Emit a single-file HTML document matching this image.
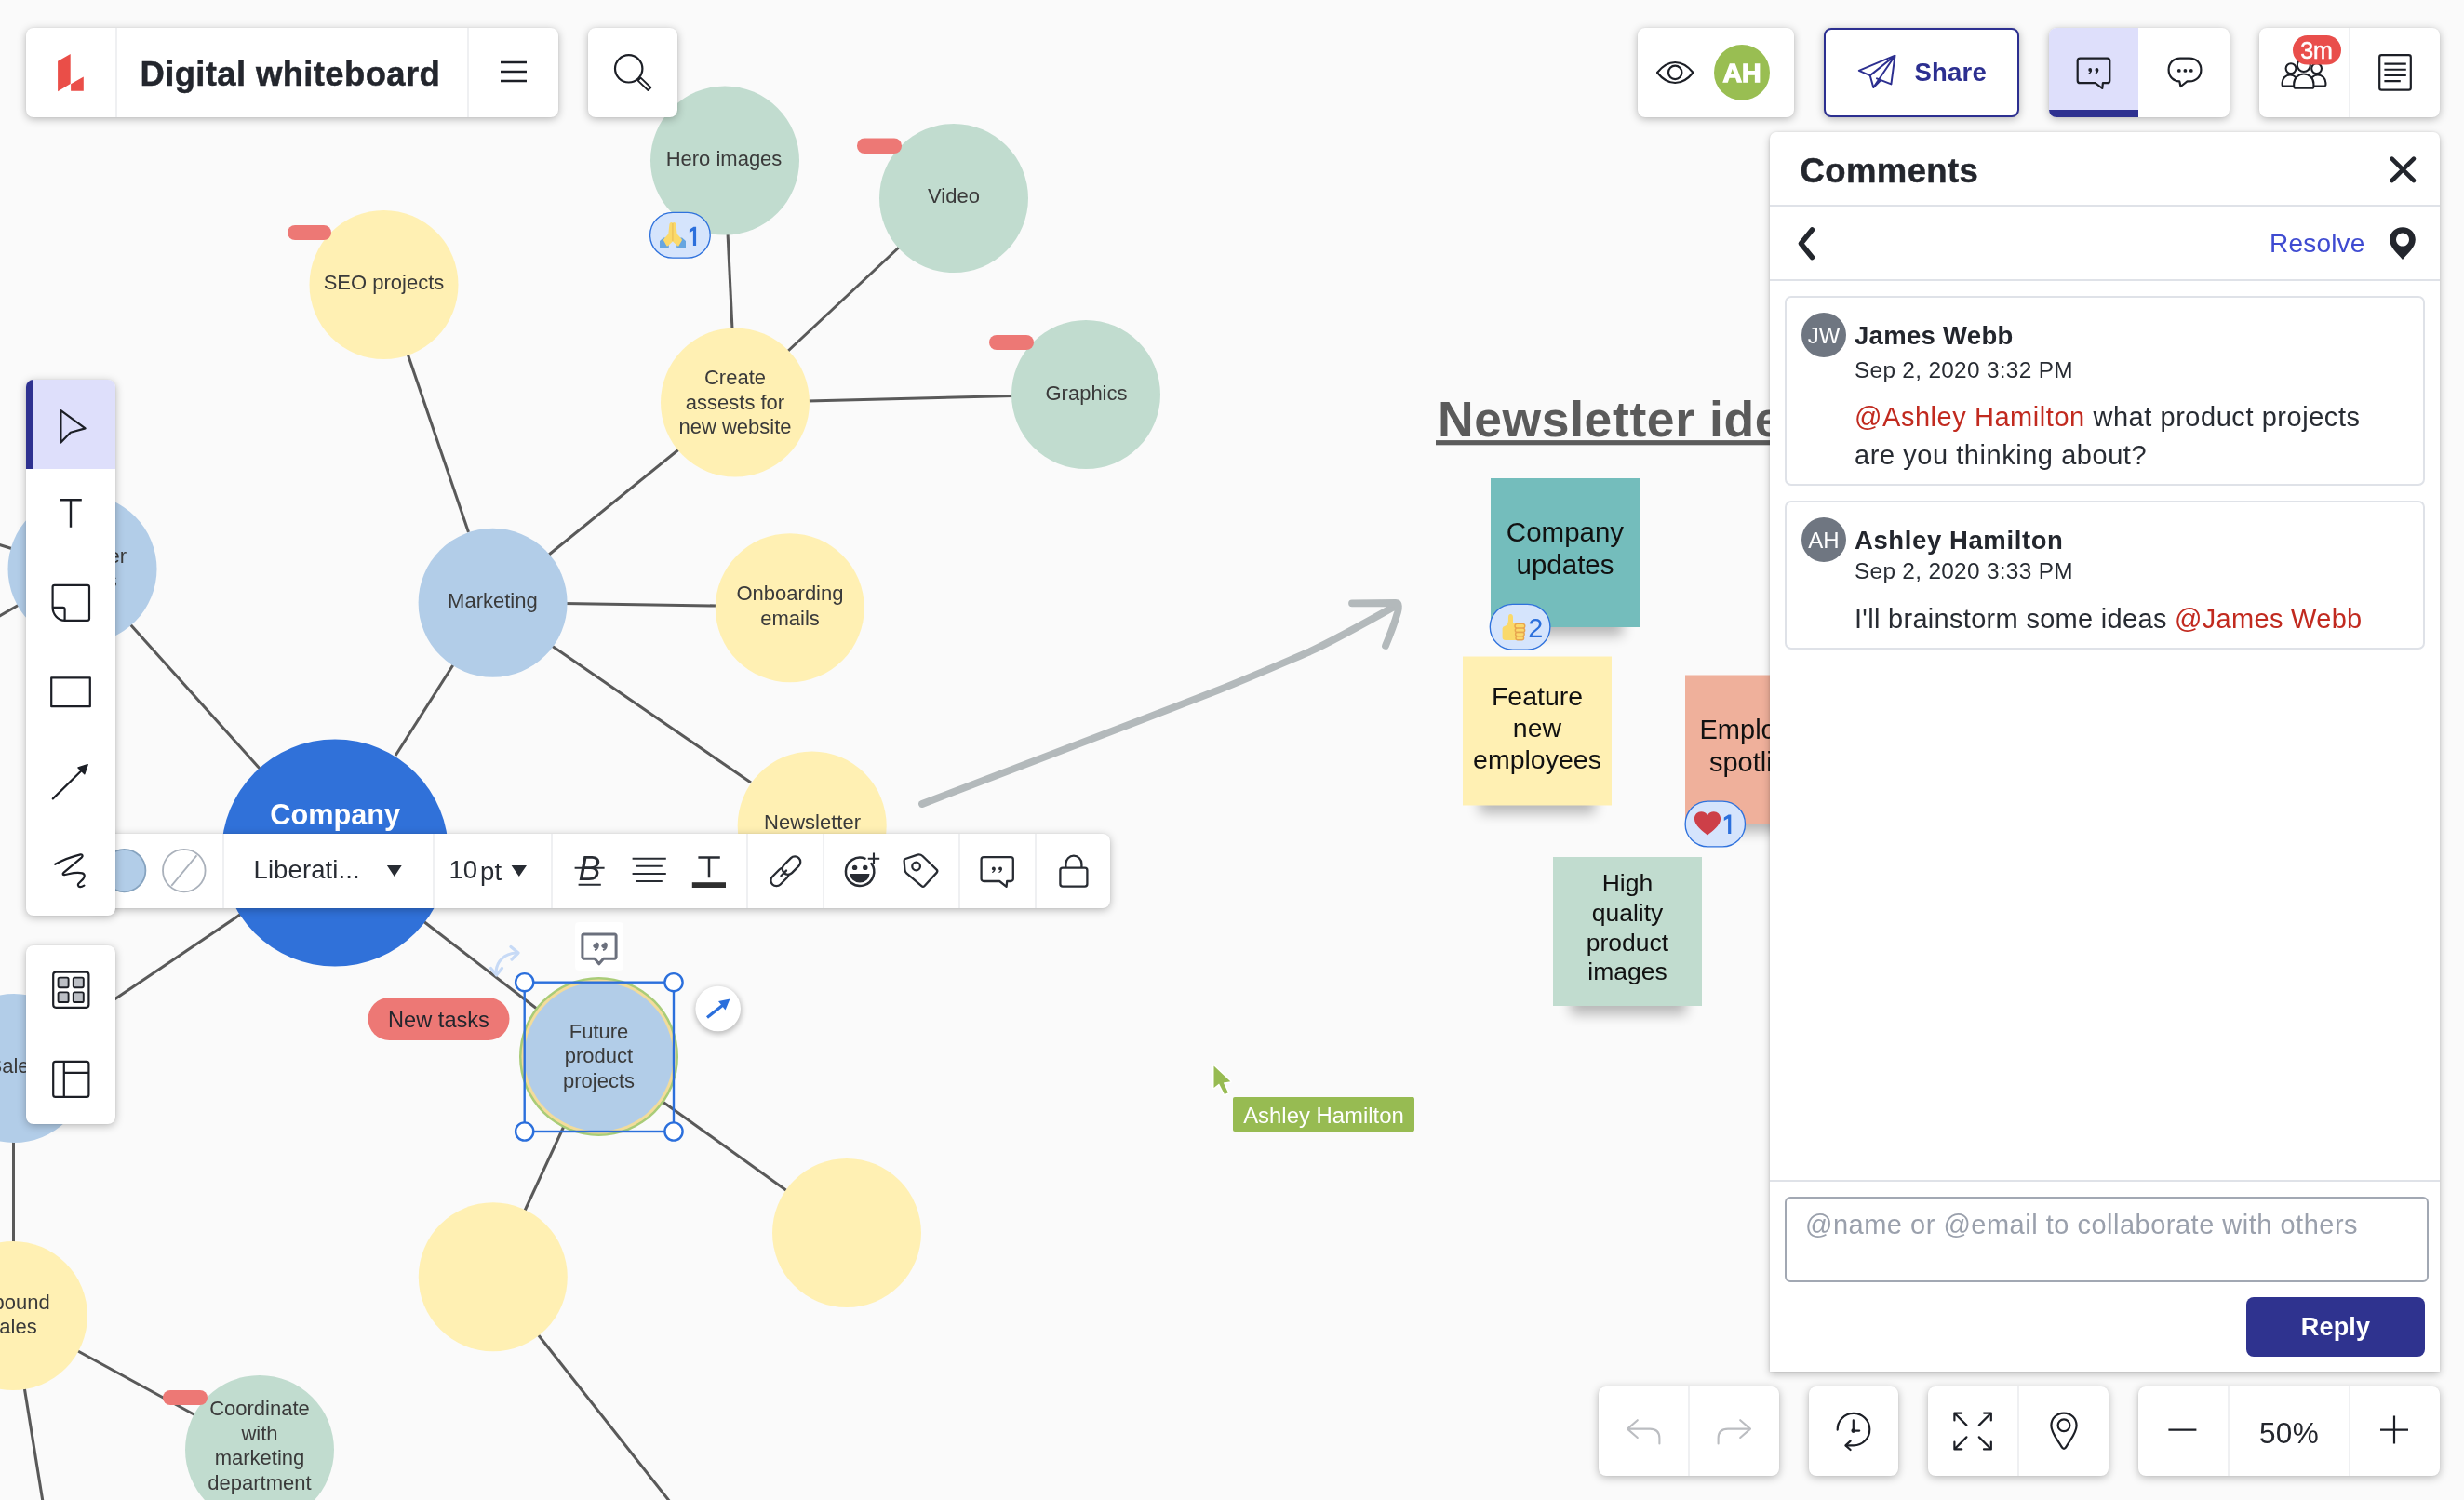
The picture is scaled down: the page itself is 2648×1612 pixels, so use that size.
<!DOCTYPE html>
<html>
<head>
<meta charset="utf-8">
<title>Digital whiteboard</title>
<style>
*{box-sizing:border-box;margin:0;padding:0}
html,body{width:2648px;height:1612px;overflow:hidden;background:#fafafa;font-family:"Liberation Sans",sans-serif;color:#282c33}
#canvas{will-change:transform;position:absolute;left:0;top:0;width:2648px;height:1612px}
.ct{font-family:"Liberation Sans",sans-serif;font-size:22px;fill:#3a3a3a;text-anchor:middle}
.st{font-family:"Liberation Sans",sans-serif;font-size:28px;fill:#111;text-anchor:middle}
.panel{will-change:transform;position:absolute;background:#fff;border-radius:8px;box-shadow:0 2px 10px rgba(0,0,0,.27),0 0 2px rgba(0,0,0,.08)}
.cell{position:absolute;top:0;height:100%}
.vd{position:absolute;top:0;width:2px;height:100%;background:#eff0f2}
svg{display:block}
.ico{position:absolute}
</style>
</head>
<body>
<!-- ================= CANVAS ================= -->
<svg id="canvas" width="2648" height="1612" viewBox="0 0 2648 1612">
<defs>
<filter id="stk" x="-30%" y="-80%" width="160%" height="260%"><feGaussianBlur stdDeviation="7"/></filter>
<filter id="stk2" x="-30%" y="-30%" width="160%" height="160%"><feGaussianBlur stdDeviation="3"/></filter>
</defs>
<!-- connector lines -->
<g stroke="#595959" stroke-width="3.05" fill="none" stroke-linecap="butt">
<line x1="782" y1="250" x2="787" y2="354"/>
<line x1="846" y1="378" x2="968" y2="264"/>
<line x1="868" y1="431" x2="1089" y2="425.5"/>
<line x1="438" y1="380" x2="503.5" y2="572"/>
<line x1="590" y1="596" x2="729.5" y2="483"/>
<line x1="606" y1="648.5" x2="770" y2="651"/>
<line x1="593" y1="694" x2="807" y2="841"/>
<line x1="488" y1="713" x2="425" y2="812"/>
<line x1="140" y1="671" x2="280" y2="827"/>
<line x1="455" y1="990" x2="582" y2="1088"/>
<line x1="260" y1="981.6" x2="60" y2="1116.5"/>
<line x1="608" y1="1206" x2="564" y2="1301"/>
<line x1="708" y1="1181" x2="846" y2="1280"/>
<line x1="578" y1="1434" x2="720" y2="1614"/>
<line x1="14.5" y1="1222" x2="14.5" y2="1340"/>
<line x1="82" y1="1451" x2="212" y2="1522"/>
<line x1="26" y1="1490" x2="46" y2="1614"/>
<line x1="-2" y1="585" x2="14" y2="590"/>
<line x1="-2" y1="663" x2="22" y2="649"/>
</g>
<!-- circles -->
<g>
<circle cx="779" cy="172.5" r="80" fill="#c1dccf"/>
<circle cx="1025" cy="213" r="80" fill="#c1dccf"/>
<circle cx="1167" cy="424" r="80" fill="#c1dccf"/>
<circle cx="790" cy="432.5" r="80" fill="#fff0b3"/>
<circle cx="412.5" cy="306" r="80" fill="#fff0b3"/>
<circle cx="529.6" cy="647.8" r="80" fill="#b2cde8"/>
<circle cx="848.8" cy="653.2" r="80" fill="#fff0b3"/>
<circle cx="872.7" cy="887.5" r="80" fill="#fff0b3"/>
<circle cx="88.5" cy="611.5" r="80" fill="#b2cde8"/>
<circle cx="360" cy="916.5" r="122" fill="#3071d9"/>
<circle cx="15" cy="1148" r="80" fill="#b2cde8"/>
<circle cx="14" cy="1414" r="80" fill="#fff0b3"/>
<circle cx="279" cy="1558" r="80" fill="#c1dccf"/>
<circle cx="529.8" cy="1372.3" r="80" fill="#fff0b3"/>
<circle cx="910" cy="1325" r="80" fill="#fff0b3"/>
<!-- selected circle -->
<circle cx="643.5" cy="1135.5" r="85.5" fill="#a9cc78"/>
<circle cx="643.5" cy="1135.5" r="83" fill="#f3dc9a"/>
<circle cx="643.5" cy="1135.5" r="80" fill="#b2cde8"/>
</g>
<!-- red tag pills -->
<g fill="#ed7875">
<rect x="309" y="242" width="47" height="16" rx="8"/>
<rect x="921" y="148.5" width="48" height="16.5" rx="8"/>
<rect x="1063" y="360" width="48" height="16" rx="8"/>
<rect x="175" y="1494" width="48" height="16" rx="8"/>
<rect x="395.5" y="1072" width="152" height="46" rx="23"/>
</g>
<text x="471.5" y="1104" style="font-family:'Liberation Sans',sans-serif;font-size:23.6px;fill:#23262d;text-anchor:middle">New tasks</text>
<!-- circle labels -->
<g class="ct">
<text x="778" y="177.5">Hero images</text>
<text x="1025" y="218">Video</text>
<text x="1167.5" y="429.5">Graphics</text>
<text x="790" y="413">Create</text>
<text x="790" y="439.5">assests for</text>
<text x="790" y="466">new website</text>
<text x="412.5" y="310.5">SEO projects</text>
<text x="529.4" y="652.8">Marketing</text>
<text x="849" y="645.4">Onboarding</text>
<text x="849" y="671.5">emails</text>
<text x="873" y="891.4">Newsletter</text>
<text x="643.5" y="1115.5">Future</text>
<text x="643.5" y="1142">product</text>
<text x="643.5" y="1168.5">projects</text>
<text x="88.5" y="605">Customer</text>
<text x="88.5" y="631">insights</text>
<text x="15" y="1152.5">Sales</text>
<text x="14" y="1407">Inbound</text>
<text x="14" y="1433">sales</text>
<text x="279" y="1521">Coordinate</text>
<text x="279" y="1547.5">with</text>
<text x="279" y="1574">marketing</text>
<text x="279" y="1600.5">department</text>
</g>
<text x="360.2" y="886.4" style="font-family:'Liberation Sans',sans-serif;font-size:30.7px;font-weight:bold;fill:#fff;text-anchor:middle">Company</text>
<!-- heading -->
<text x="1545" y="468.5" style="font-family:'Liberation Sans',sans-serif;font-size:53.5px;font-weight:bold;fill:#5b5b5b;letter-spacing:.6px">Newsletter ideas</text>
<rect x="1543" y="473.1" width="420" height="5.2" fill="#5b5b5b"/>
<!-- grey hand-drawn arrow -->
<g fill="none" stroke="#b3b9bb" stroke-width="7.8" stroke-linecap="round" stroke-linejoin="round">
<path d="M991,864 C1097,823 1203,783 1308.7,741.9 C1345,727.5 1380,712 1407.4,700.3 C1434,688 1468,669 1500,651"/>
<path d="M1453,648.3 L1500,648 C1504,648 1503,654 1502,658 C1498,672 1494,682 1489,694"/>
</g>
<!-- sticky notes -->
<g filter="url(#stk)" fill="#000" opacity=".27">
<rect x="1620" y="655" width="124" height="28"/>
<rect x="1590" y="846" width="124" height="28"/>
<rect x="1830" y="866" width="124" height="28"/>
<rect x="1688" y="1062" width="124" height="28"/>
</g>
<rect x="1602" y="514" width="160" height="160" fill="#74bdbc"/>
<rect x="1572" y="705.5" width="160" height="160" fill="#fff0b3"/>
<rect x="1811" y="725.5" width="160" height="160" fill="#efb09b"/>
<rect x="1669" y="921" width="160" height="160" fill="#c1dccf"/>
<g class="st">
<text x="1682" y="582" style="font-size:29.5px">Company</text>
<text x="1682" y="616.5" style="font-size:29.5px">updates</text>
<text x="1652" y="757.5" style="font-size:28.5px">Feature</text>
<text x="1652" y="791.5" style="font-size:28.5px">new</text>
<text x="1652" y="826" style="font-size:28.5px">employees</text>
<text x="1891" y="793.5" style="font-size:29px">Employee</text>
<text x="1891" y="828.5" style="font-size:29px">spotlight</text>
<text x="1749" y="957.5" style="font-size:26.5px">High</text>
<text x="1749" y="989.5" style="font-size:26.5px">quality</text>
<text x="1749" y="1021.5" style="font-size:26.5px">product</text>
<text x="1749" y="1053" style="font-size:26.5px">images</text>
</g>
<!-- reaction badges -->
<g>
<rect x="698.6" y="228.4" width="64.6" height="48.8" rx="24.4" fill="#d5e4fc" stroke="#2f72dd" stroke-width="1.35"/>
<g transform="translate(709,239)">
<path d="M0,20 L4,16.6 L7.5,16.6 L9.8,25 L9.8,27.9 L0,27.9z M28,20 L24,16.6 L20.5,16.6 L18.2,25 L18.2,27.9 L28,27.9z" fill="#66a5e0"/>
<path d="M11.2,0.4 Q12.6,-0.3 13.9,0.5 Q15.2,-0.3 16.7,0.4 Q17.6,1.2 17.7,4 L18.6,12.4 L23.6,18 Q24.2,18.9 23.6,19.8 L20.6,25 Q20,25.9 19.1,25.2 L13.9,20.6 L8.8,25.2 Q7.9,25.9 7.3,25 L4.3,19.8 Q3.7,18.9 4.3,18 L9.3,12.4 L10.2,4 Q10.3,1.2 11.2,0.4z" fill="#fbd96a"/>
<path d="M13.9,1 V20" stroke="#efc55c" stroke-width="1.6" fill="none"/>
</g>
<path d="M748.1,243.8 V264 H744.9 V247.8 L740.9,250.2 V246.8 L745.5,243.8z" fill="#2b6fdc"/>
<rect x="1601.3" y="649.3" width="64.6" height="48.8" rx="24.4" fill="#d5e4fc" stroke="#2f72dd" stroke-width="1.35"/>
<g transform="translate(1614,660)">
<path d="M0.6,15.6 Q0.6,13.4 3.4,12.7 Q6.6,11.6 6.9,7 L7,3.2 Q7.1,0 9.4,0 Q12,0 12,3.6 L12,9.8 L20,9.8 L20,28 L4,28 Q0.6,28 0.6,25z" fill="#fad96b"/>
<g fill="#fbd96b" stroke="#e8a44e" stroke-width="1.4">
<rect x="14" y="10.4" width="10.8" height="4.7" rx="2.35"/>
<rect x="14.3" y="15.1" width="10.4" height="4.4" rx="2.2"/>
<rect x="14.6" y="19.5" width="9.6" height="4.2" rx="2.1"/>
<rect x="15" y="23.7" width="8.6" height="4" rx="2"/>
</g>
</g>
<text x="1650.2" y="685.2" style="font-family:'Liberation Sans',sans-serif;font-size:28.8px;fill:#2b6fdc;text-anchor:middle">2</text>
<rect x="1811.1" y="861.1" width="64.4" height="48.8" rx="24.4" fill="#d5e4fc" stroke="#2f72dd" stroke-width="1.35"/>
<path transform="translate(1820.9,872.2)" d="M14.1,25.2 C9,21 0,15.2 0,7.6 C0,3 3.5,0 7.3,0 C10.3,0 12.8,1.6 14.1,4 C15.4,1.6 17.9,0 20.9,0 C24.7,0 28.2,3 28.2,7.6 C28.2,15.2 19.2,21 14.1,25.2z" fill="#cd3f48"/>
<path d="M1860.3,875.4 V896 H1857.1 V879.4 L1852.8,881.9 V878.5 L1857.6,875.4z" fill="#2b6fdc"/>
</g>
<!-- selection chrome -->
<rect x="618" y="991" width="52" height="52" rx="4" fill="#fff" opacity=".85"/>
<g fill="none" stroke="#6b707d" stroke-width="3" stroke-linejoin="round">
<path d="M627.5,1004 h33 a1.6,1.6 0 0 1 1.6,1.6 v23 a1.6,1.6 0 0 1 -1.6,1.6 h-12 l-4.7,5.6 l-4.7,-5.6 h-11.6 a1.6,1.6 0 0 1 -1.6,-1.6 v-23 a1.6,1.6 0 0 1 1.6,-1.6z"/>
</g>
<path d="M640.5,1013.5 a2.3,2.3 0 1 1 -2.3,2.3 M640.5,1013.5 M642.8,1015.8 c0,3 -1.6,4.6 -3.8,5.2 M649.5,1013.5 a2.3,2.3 0 1 1 -2.3,2.3 M651.8,1015.8 c0,3 -1.6,4.6 -3.8,5.2" fill="none" stroke="#6b707d" stroke-width="2"/>
<circle cx="640.5" cy="1015.8" r="2.4" fill="#6b707d"/><circle cx="649.5" cy="1015.8" r="2.4" fill="#6b707d"/>
<!-- rotate handle -->
<g fill="none" stroke="#c7daf6" stroke-width="3.2" stroke-linecap="round" stroke-linejoin="round">
<path d="M533,1044 C534,1032 543,1025 554,1024"/>
<path d="M549,1017.5 L557,1024 L550,1031"/>
<path d="M527.5,1040.5 L533.5,1048 L539.5,1040.5"/>
</g>
<rect x="563.7" y="1055.7" width="160.3" height="160.3" fill="none" stroke="#2b6fdc" stroke-width="2.4"/>
<g fill="#fff" stroke="#2b6fdc" stroke-width="2.4">
<circle cx="563.7" cy="1055.7" r="9.6"/><circle cx="724" cy="1055.7" r="9.6"/>
<circle cx="563.7" cy="1216" r="9.6"/><circle cx="724" cy="1216" r="9.6"/>
</g>
<!-- arrow button -->
<circle cx="772" cy="1086" r="25" fill="#000" opacity=".28" filter="url(#stk2)"/>
<circle cx="771.7" cy="1084" r="24.3" fill="#fff"/>
<path d="M760,1093.5 L777,1080" stroke="#2b6fdc" stroke-width="3.2" fill="none"/>
<path d="M784.5,1073.5 L772,1076 L779.5,1085.5z" fill="#2b6fdc"/>
<!-- collaborator cursor -->
<path d="M1304.5,1145.5 L1304.5,1168.9 L1310.1,1164.4 L1316,1176.1 L1319.8,1174.2 L1314.8,1163.5 L1322.3,1162.3z" fill="#97bb52" stroke="#fff" stroke-width="3" stroke-linejoin="round" paint-order="stroke"/>
<rect x="1325" y="1179" width="195" height="37" rx="2" fill="#97bb52"/>
<text x="1422.5" y="1206.6" style="font-family:'Liberation Sans',sans-serif;font-size:23.9px;fill:#fff;text-anchor:middle">Ashley Hamilton</text>
<!-- CANVAS-EXTRA -->
</svg>
<!-- ================= UI ================= -->
<!-- top-left title bar -->
<div class="panel" style="left:28px;top:30px;width:572px;height:96px">
  <svg class="ico" style="left:0;top:0" width="96" height="96" viewBox="28 30 96 96"><path d="M62.1,65.7 L75.7,58 L75.7,89.9 L62.1,98.2z M76.1,90.3 L89.8,82.4 L89.8,97.8 L76.1,97.8z" fill="#ea4e48"/></svg>
  <div class="vd" style="left:96px"></div>
  <div style="position:absolute;left:122.5px;top:25.8px;-webkit-text-stroke:.45px #23262d;font-size:36.5px;font-weight:bold;letter-spacing:.35px;line-height:48px;color:#23262d;white-space:nowrap">Digital whiteboard</div>
  <div class="vd" style="left:474px"></div>
  <svg class="ico" style="left:476px;top:0" width="96" height="96" viewBox="504 30 96 96"><path d="M538,67h28M538,77h28M538,87h28" stroke="#1c1f26" stroke-width="2.3" fill="none"/></svg>
</div>
<!-- search -->
<div class="panel" style="left:632px;top:30px;width:96px;height:96px">
  <svg class="ico" style="left:0;top:0" width="96" height="96" viewBox="632 30 96 96"><circle cx="675.7" cy="73.8" r="14.7" fill="none" stroke="#1c1f26" stroke-width="2.2"/><path d="M685.6,86.6 L688.6,83.6 L699.4,94 L696.4,97z" fill="#fff" stroke="#1c1f26" stroke-width="1.8" stroke-linejoin="round"/></svg>
</div>
<!-- eye + avatar -->
<div class="panel" style="left:1760px;top:30px;width:168px;height:96px">
  <svg class="ico" style="left:0;top:0" width="168" height="96" viewBox="1760 30 168 96">
    <path d="M1781,78 C1787,70.5 1793,67 1800.2,67 C1807.5,67 1813.5,70.5 1819.5,78 C1813.5,85.5 1807.5,89 1800.2,89 C1793,89 1787,85.5 1781,78z" fill="none" stroke="#1c1f26" stroke-width="2.2" stroke-linejoin="round"/>
    <circle cx="1800.2" cy="77.9" r="7.2" fill="none" stroke="#1c1f26" stroke-width="2.2"/>
    <circle cx="1872" cy="77.9" r="30" fill="#99be52"/>
    <text x="1872" y="88" style="font-family:'Liberation Sans',sans-serif;font-size:28.5px;font-weight:bold;fill:#fff;stroke:#fff;stroke-width:1.3px;text-anchor:middle">AH</text>
  </svg>
</div>
<!-- share -->
<div class="panel" style="left:1960px;top:30px;width:210px;height:96px;border:2.6px solid #2c2f90">
  <svg class="ico" style="left:-2.6px;top:-2.6px" width="210" height="96" viewBox="1960 30 210 96">
    <path d="M2037.5,60.7 L1998.8,76.8 L2010.7,82.1 L2014.3,95 L2021.8,87.6 M2010.7,82.1 L2037.5,60.7 L2014.3,95 M2018,85.4 L2033.4,91.4 L2037.5,60.7" fill="none" stroke="#2c2f90" stroke-width="2" stroke-linejoin="round" stroke-linecap="round"/>
    <text x="2058.5" y="87.8" style="font-family:'Liberation Sans',sans-serif;font-size:27.5px;font-weight:bold;fill:#2c2f90;letter-spacing:.2px">Share</text>
  </svg>
</div>
<!-- comment / chat toggle -->
<div class="panel" style="left:2202px;top:30px;width:194px;height:96px;overflow:hidden">
  <div style="position:absolute;left:0;top:0;width:96px;height:96px;background:#dedffb"></div>
  <div style="position:absolute;left:0;top:88px;width:96px;height:8px;background:#2e3190"></div>
  <svg class="ico" style="left:0;top:0" width="194" height="96" viewBox="2202 30 194 96">
    <g fill="none" stroke="#1c1f26" stroke-width="2.2" stroke-linejoin="round" stroke-linecap="round">
      <path d="M2235.5,62.6 h29 a2.8,2.8 0 0 1 2.8,2.8 v21 a2.8,2.8 0 0 1 -2.8,2.8 h-4.6 l-0.6,5.8 l-7.6,-5.8 h-16.2 a2.8,2.8 0 0 1 -2.8,-2.8 v-21 a2.8,2.8 0 0 1 2.8,-2.8z"/>
      <path d="M2330.6,75 C2330.6,67.5 2336,62.6 2343,62.6 h10 C2360,62.6 2365.4,67.5 2365.4,75 C2365.4,82.5 2360,87.4 2353,87.4 h-2.5 l-7,5.6 l-1.2,-5.6 C2336,87.4 2330.6,82.5 2330.6,75z"/>
    </g>
    <g fill="#1c1f26">
      <circle cx="2246.2" cy="75" r="1.9"/><path d="M2248.1,75 c0,2.6 -1.4,4 -3.3,4.5 l-0.4,-0.9 c1.2,-0.5 1.9,-1.4 1.9,-2.6z"/>
      <circle cx="2253.4" cy="75" r="1.9"/><path d="M2255.3,75 c0,2.6 -1.4,4 -3.3,4.5 l-0.4,-0.9 c1.2,-0.5 1.9,-1.4 1.9,-2.6z"/>
      <circle cx="2341.8" cy="75.9" r="1.9"/><circle cx="2348.4" cy="75.9" r="1.9"/><circle cx="2354.8" cy="75.9" r="1.9"/>
    </g>
  </svg>
</div>
<!-- collaborators / notes -->
<div class="panel" style="left:2428px;top:30px;width:194px;height:96px">
  <div class="vd" style="left:96px"></div>
  <svg class="ico" style="left:0;top:0" width="194" height="96" viewBox="2428 30 194 96">
    <g fill="#fff" stroke="#1c1f26" stroke-width="2.1" stroke-linejoin="round">
      <circle cx="2462" cy="73.6" r="5.4"/><circle cx="2489.6" cy="73.6" r="5.4"/>
      <path d="M2452.6,91 v-2 a8.5,8.5 0 0 1 17,0 v2 a1.6,1.6 0 0 1 -1.6,1.6 h-13.8 a1.6,1.6 0 0 1 -1.6,-1.6z"/>
      <path d="M2482.4,91 v-2 a8.5,8.5 0 0 1 17,0 v2 a1.6,1.6 0 0 1 -1.6,1.6 h-13.8 a1.6,1.6 0 0 1 -1.6,-1.6z"/>
      <circle cx="2475.8" cy="70" r="7"/>
      <path d="M2465.2,93 v-3 a10.6,10.6 0 0 1 21.2,0 v3 a1.8,1.8 0 0 1 -1.8,1.8 h-17.6 a1.8,1.8 0 0 1 -1.8,-1.8z"/>
    </g>
    <rect x="2464" y="38" width="52" height="31.6" rx="15.8" fill="#e94e4b"/>
    <text x="2489.5" y="63" style="font-family:'Liberation Sans',sans-serif;font-size:25px;fill:#fff;stroke:#fff;stroke-width:.5px;text-anchor:middle">3m</text>
    <rect x="2557.2" y="59.2" width="33.6" height="37.4" rx="2.2" fill="none" stroke="#1c1f26" stroke-width="2.2"/>
    <path d="M2562.4,68.6h23.4M2562.4,74.8h23.4M2562.4,81h23.4M2562.4,87.1h17.4" stroke="#1c1f26" stroke-width="2.1" fill="none"/>
  </svg>
</div>
<!-- comments panel -->
<div class="panel" style="left:1902px;top:142px;width:720px;height:1332px;border-radius:7px 7px 0 0;box-shadow:0 3px 9px rgba(0,0,0,.24),0 0 3px rgba(0,0,0,.12)">
  <div style="position:absolute;left:32.5px;top:17.5px;-webkit-text-stroke:.45px #23262d;font-size:36.5px;font-weight:bold;letter-spacing:.4px;line-height:48px;color:#23262d">Comments</div>
  <svg class="ico" style="left:0;top:0" width="720" height="170" viewBox="1902 142 720 170">
    <path d="M2570.6,170.6 L2594,194 M2594,170.6 L2570.6,194" stroke="#23262d" stroke-width="4.6" stroke-linecap="round" fill="none"/>
    <path d="M1947.4,247 L1935.4,261.8 L1947.4,276.6" stroke="#23262d" stroke-width="5.6" stroke-linecap="round" stroke-linejoin="round" fill="none"/>
    <path d="M2582,244.2 C2574,244.2 2568.2,250 2568.2,257.6 C2568.2,266 2576,272 2582,279 C2588,272 2595.8,266 2595.8,257.6 C2595.8,250 2590,244.2 2582,244.2z M2582,250.6 a7,7 0 1 0 0.01,0z" fill="#23262d" fill-rule="evenodd"/>
  </svg>
  <div style="position:absolute;left:0;top:78px;width:720px;height:2px;background:#dfe2e8"></div>
  <div style="position:absolute;left:537px;top:103px;font-size:28px;line-height:34px;letter-spacing:.2px;color:#3f4bd1">Resolve</div>
  <div style="position:absolute;left:0;top:158px;width:720px;height:2px;background:#dfe2e8"></div>
  <!-- card 1 -->
  <div style="position:absolute;left:16px;top:176px;width:688px;height:204px;border:2px solid #dfe2e8;border-radius:7px">
    <div style="position:absolute;left:16px;top:16px;width:48px;height:48px;border-radius:50%;background:#6f7681;color:#fff;font-size:24px;line-height:49px;text-align:center">JW</div>
    <div style="position:absolute;left:73px;top:24px;font-size:27.5px;font-weight:bold;line-height:34px;letter-spacing:.3px;color:#23262d;white-space:nowrap">James Webb</div>
    <div style="position:absolute;left:73px;top:63px;font-size:24.4px;line-height:30px;letter-spacing:.3px;color:#282c33;white-space:nowrap">Sep 2, 2020 3:32 PM</div>
    <div style="position:absolute;left:73px;top:108px;font-size:29px;line-height:40.5px;letter-spacing:.55px;color:#282c33;white-space:nowrap"><span style="color:#c12a1f">@Ashley Hamilton</span> what product projects<br>are you thinking about?</div>
  </div>
  <!-- card 2 -->
  <div style="position:absolute;left:16px;top:396px;width:688px;height:160px;border:2px solid #dfe2e8;border-radius:7px">
    <div style="position:absolute;left:16px;top:16px;width:48px;height:48px;border-radius:50%;background:#6f7681;color:#fff;font-size:24px;line-height:49px;text-align:center">AH</div>
    <div style="position:absolute;left:73px;top:24px;font-size:27.5px;font-weight:bold;line-height:34px;letter-spacing:.6px;color:#23262d;white-space:nowrap">Ashley Hamilton</div>
    <div style="position:absolute;left:73px;top:58.5px;font-size:24.4px;line-height:30px;letter-spacing:.3px;color:#282c33;white-space:nowrap">Sep 2, 2020 3:33 PM</div>
    <div style="position:absolute;left:73px;top:105px;font-size:29px;line-height:40.5px;letter-spacing:.3px;color:#282c33;white-space:nowrap">I'll brainstorm some ideas <span style="color:#c12a1f">@James Webb</span></div>
  </div>
  <div style="position:absolute;left:0;top:1126px;width:720px;height:2px;background:#dfe2e8"></div>
  <div style="position:absolute;left:16px;top:1144px;width:692px;height:92px;border:2px solid #a2a8b3;border-radius:6px">
    <div style="position:absolute;left:20px;top:10px;font-size:29px;line-height:36px;letter-spacing:.5px;color:#9aa0ac;white-space:nowrap">@name or @email to collaborate with others</div>
  </div>
  <div style="position:absolute;left:512px;top:1252px;width:192px;height:64px;border-radius:8px;background:#2f338f;color:#fff;font-size:27px;font-weight:bold;line-height:64px;text-align:center;letter-spacing:.2px">Reply</div>
</div>
<!-- format toolbar (sits under the left toolbar) -->
<div class="panel" style="left:96px;top:896px;width:1097px;height:80px;border-radius:8px">
  <div class="vd" style="left:142.5px"></div>
  <div class="vd" style="left:368.5px"></div>
  <div class="vd" style="left:496px"></div>
  <div class="vd" style="left:706px"></div>
  <div class="vd" style="left:788px"></div>
  <div class="vd" style="left:934px"></div>
  <div class="vd" style="left:1016px"></div>
  <div style="position:absolute;left:176.5px;top:19px;font-size:27.5px;line-height:40px;color:#282c33;white-space:nowrap;letter-spacing:.1px">Liberati...</div>
  <div style="position:absolute;left:386.5px;top:19px;font-size:27.5px;line-height:40px;color:#282c33;white-space:nowrap">10<span style="margin-left:3px;position:relative;top:1.5px">pt</span></div>
  <svg class="ico" style="left:0;top:0" width="1097" height="80" viewBox="96 896 1097 80">
    <circle cx="133.6" cy="935.6" r="22.8" fill="#b2cde8" stroke="#86a3bf" stroke-width="1.8"/>
    <circle cx="197.8" cy="935.6" r="22.8" fill="#fff" stroke="#aab1bb" stroke-width="1.8"/>
    <path d="M184.3,951.8 L211.4,919.3" stroke="#aab1bb" stroke-width="1.8" fill="none"/>
    <path d="M415.9,930 h15.8 l-7.9,12z M549.6,930 h16.4 l-8.2,12z" fill="#282c33"/>
    <!-- B strike/underline -->
    <text x="633.5" y="945.6" style="font-family:'Liberation Sans',sans-serif;font-size:36px;font-style:italic;fill:#282c33;text-anchor:middle">B</text>
    <path d="M617.6,932.8 h32 M621.6,950.8 h24.2" stroke="#282c33" stroke-width="2" fill="none"/>
    <!-- align -->
    <path d="M679.6,922.7h36.2M684,930.8h27.8M679.6,939h36.2M684,947h27.8" stroke="#282c33" stroke-width="2.1" fill="none"/>
    <!-- text colour -->
    <path d="M750.4,921.6h23.4M762,921.6v21.6" stroke="#282c33" stroke-width="2.5" fill="none"/>
    <rect x="743.8" y="948.2" width="36.2" height="5.8" fill="#2f2f2f"/>
    <!-- link -->
    <g transform="translate(844.3,936.3) rotate(-45)" fill="none" stroke="#282c33" stroke-width="2.3">
      <rect x="-20" y="-6" width="22.5" height="12" rx="6"/>
      <rect x="-2.5" y="-6" width="22.5" height="12" rx="6" fill="#fff"/>
      <path d="M-7,0 h8" stroke-linecap="round"/>
    </g>
    <!-- emoji + -->
    <path d="M936.5,928 A15.2,15.2 0 1 1 929.5,922.6" fill="none" stroke="#282c33" stroke-width="2.5" stroke-linecap="round"/>
    <circle cx="918.6" cy="932.4" r="2.7" fill="#282c33"/><circle cx="929.8" cy="932.4" r="2.7" fill="#282c33"/>
    <path d="M913.5,939 h21 a10.5,9.5 0 0 1 -21,0z" fill="#282c33"/>
    <path d="M939,916.6v12.4M932.8,922.8h12.4" stroke="#282c33" stroke-width="2.1" fill="none"/>
    <!-- tag -->
    <g fill="none" stroke="#282c33" stroke-width="2.3" stroke-linejoin="round">
      <path d="M973,923 L986,918.6 Q989,917.8 991.5,920 L1006.6,934.6 Q1008,936 1006.8,937.6 L993.6,952 Q992,953.6 990.4,952.2 L974.2,938.4 Q972.6,937 972.4,934.6 L971.6,925 Q971.6,923.4 973,923z"/>
      <circle cx="984.6" cy="931" r="4.3"/>
    </g>
    <!-- comment -->
    <path d="M1057.2,921.2 h29 a2.6,2.6 0 0 1 2.6,2.6 v20.6 a2.6,2.6 0 0 1 -2.6,2.6 h-4 l-.6,5.8 l-7.4,-5.8 h-17 a2.6,2.6 0 0 1 -2.6,-2.6 v-20.6 a2.6,2.6 0 0 1 2.6,-2.6z" fill="none" stroke="#282c33" stroke-width="2.3" stroke-linejoin="round"/>
    <g fill="#282c33"><circle cx="1067.8" cy="933.4" r="1.9"/><path d="M1069.7,933.4 c0,2.6 -1.4,4 -3.3,4.5 l-.4,-.9 c1.2,-.5 1.9,-1.4 1.9,-2.6z"/><circle cx="1075" cy="933.4" r="1.9"/><path d="M1076.9,933.4 c0,2.6 -1.4,4 -3.3,4.5 l-.4,-.9 c1.2,-.5 1.9,-1.4 1.9,-2.6z"/></g>
    <!-- lock -->
    <rect x="1139.4" y="932.6" width="29" height="20" rx="2.6" fill="none" stroke="#282c33" stroke-width="2.3"/>
    <path d="M1145.4,932.6 v-4.4 a8.5,8.5 0 0 1 17,0 v4.4" fill="none" stroke="#282c33" stroke-width="2.3"/>
  </svg>
</div>
<!-- left toolbar -->
<div class="panel" style="left:28px;top:408px;width:96px;height:576px;overflow:hidden">
  <div style="position:absolute;left:0;top:0;width:96px;height:96px;background:#dedffb"></div>
  <div style="position:absolute;left:0;top:0;width:8px;height:96px;background:#2e3190"></div>
  <svg class="ico" style="left:0;top:0" width="96" height="576" viewBox="28 408 96 576">
    <g fill="none" stroke="#1c1f26" stroke-width="2.2" stroke-linejoin="round" stroke-linecap="round">
      <path d="M65.4,441.2 L91.6,460.4 L75.8,464.8 L65.4,475.6z"/>
      <path d="M64.2,537.2h23.6M76,537.2v29.6" stroke-linecap="butt" stroke-width="2.4"/>
      <path d="M58.6,628.8 h35.4 a2,2 0 0 1 2,2 v34 a2,2 0 0 1 -2,2 h-24.4 C62,666.8 56.6,660 56.6,652.8 v-22 a2,2 0 0 1 2,-2z M56.6,652.8 h11 a2,2 0 0 1 2,2 v12"/>
      <rect x="55.2" y="728.4" width="41.6" height="30.8"/>
      <path d="M56.8,858.4 L88.5,827.2"/>
      <path d="M59.2,928.8 C68,924 78,920.4 86.4,918.4 C88.8,918 89.4,920 87.6,921.6 L68.6,937.6 C66.8,939.2 67.6,940.6 70,940 C76,938.8 82,936.6 88.4,938.4 C91.6,939.4 91.2,942.4 89.2,944.8 C87,947.6 82,950 84.4,952.4 C86,953.8 88.4,952.8 90.4,951.6"/>
    </g>
    <path d="M94.2,821.6 L84,825 L90.8,831.8z" fill="#1c1f26" stroke="#1c1f26" stroke-width="1.4" stroke-linejoin="round"/>
  </svg>
</div>
<!-- templates toolbar -->
<div class="panel" style="left:28px;top:1016px;width:96px;height:192px">
  <svg class="ico" style="left:0;top:0" width="96" height="192" viewBox="28 1016 96 192">
    <g fill="none" stroke="#1c1f26" stroke-width="2.2" stroke-linejoin="round">
      <rect x="57.2" y="1044.6" width="38.2" height="38.2" rx="3"/>
      <g fill="#bcbfc5" stroke-width="1.9"><rect x="62.6" y="1050.6" width="11" height="10.6" rx="1.6"/><rect x="78.8" y="1050.6" width="11" height="10.6" rx="1.6"/><rect x="62.6" y="1066.4" width="11" height="10.6" rx="1.6"/><rect x="78.8" y="1066.4" width="11" height="10.6" rx="1.6"/></g>
      <rect x="57.2" y="1140.8" width="38.2" height="38" rx="2.4"/>
      <path d="M68.8,1140.8v38M68.8,1152.8h26.6"/>
    </g>
  </svg>
</div>
<!-- bottom bar -->
<div class="panel" style="left:1718px;top:1490px;width:194px;height:96px">
  <div class="vd" style="left:96px"></div>
  <svg class="ico" style="left:0;top:0" width="194" height="96" viewBox="1718 1490 194 96">
    <g fill="none" stroke="#bbbdc1" stroke-width="2.1" stroke-linecap="round" stroke-linejoin="round">
      <path d="M1759.8,1526.2 L1749,1535.6 L1759.8,1545 M1749.4,1535.6 H1773 C1780,1535.6 1783.4,1539.6 1783.4,1545.6 V1551.4"/>
      <path d="M1870.2,1526.2 L1881,1535.6 L1870.2,1545 M1880.6,1535.6 H1857 C1850,1535.6 1846.6,1539.6 1846.6,1545.6 V1551.4"/>
    </g>
  </svg>
</div>
<div class="panel" style="left:1944px;top:1490px;width:96px;height:96px">
  <svg class="ico" style="left:0;top:0" width="96" height="96" viewBox="1944 1490 96 96">
    <g fill="none" stroke="#1c1f26" stroke-width="2.2" stroke-linecap="round" stroke-linejoin="round">
      <path d="M1974.7,1536.6 A17.3,17.3 0 1 1 1992,1553.4 L1984,1553.4"/>
      <path d="M1988.6,1548.6 L1983.4,1553.4 L1988.6,1558"/>
      <path d="M1991.8,1526.4 V1537.6 H1998.2"/><circle cx="1991.8" cy="1537.6" r="1.3" fill="#1c1f26"/>
    </g>
  </svg>
</div>
<div class="panel" style="left:2072px;top:1490px;width:194px;height:96px">
  <div class="vd" style="left:96px"></div>
  <svg class="ico" style="left:0;top:0" width="194" height="96" viewBox="2072 1490 194 96">
    <g fill="none" stroke="#1c1f26" stroke-width="2.2" stroke-linecap="round" stroke-linejoin="round">
      <path d="M2100.4,1526.4 V1518.6 H2108.2 M2100.8,1519 L2113.4,1531.6"/>
      <path d="M2139.8,1526.4 V1518.6 H2132 M2139.4,1519 L2126.8,1531.6"/>
      <path d="M2100.4,1549.6 V1557.4 H2108.2 M2100.8,1557 L2113.4,1544.4"/>
      <path d="M2139.8,1549.6 V1557.4 H2132 M2139.4,1557 L2126.8,1544.4"/>
      <path d="M2218,1518.6 C2210,1518.6 2204.4,1524.6 2204.4,1532 C2204.4,1540 2211,1547 2215.4,1554.6 Q2218,1559 2220.6,1554.6 C2225,1547 2231.6,1540 2231.6,1532 C2231.6,1524.6 2226,1518.6 2218,1518.6z"/>
      <circle cx="2218" cy="1531.8" r="6.4"/>
    </g>
  </svg>
</div>
<div class="panel" style="left:2298px;top:1490px;width:324px;height:96px">
  <div class="vd" style="left:96px"></div>
  <div class="vd" style="left:226px"></div>
  <svg class="ico" style="left:0;top:0" width="324" height="96" viewBox="2298 1490 324 96">
    <path d="M2330.4,1536.6h30M2558,1536.6h30M2573,1521.6v30" stroke="#1c1f26" stroke-width="2.2" fill="none"/>
    <text x="2460" y="1551.2" style="font-family:'Liberation Sans',sans-serif;font-size:31.5px;fill:#23262d;text-anchor:middle;letter-spacing:.4px">50%</text>
  </svg>
</div>
<!-- UI-HERE -->
</body>
</html>
